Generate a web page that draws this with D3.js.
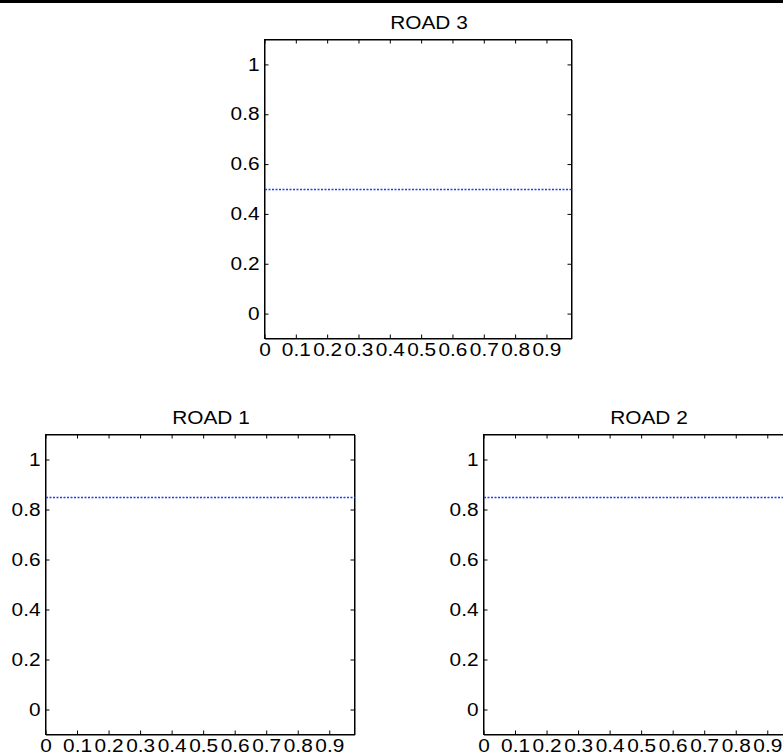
<!DOCTYPE html>
<html>
<head>
<meta charset="utf-8">
<script src="https://d3js.org/d3.v7.min.js"></script>
<style>
  body { margin: 0; background: #fff; }
  svg { display: block; overflow: hidden; }
  text { font-family: "Liberation Sans", Arial, Helvetica, sans-serif; fill: #000; }
</style>
</head>
<body>
<div id="chart"></div>
<script>
// chart values
const roadNames = ["ROAD 3", "ROAD 1", "ROAD 2"];
const roadValues = [0.5, 0.85, 0.85];
const lineX = [0, 0.98];
const xTicks = [0, 0.1, 0.2, 0.3, 0.4, 0.5, 0.6, 0.7, 0.8, 0.9];
const yTicks = [0, 0.2, 0.4, 0.6, 0.8, 1];
const xDomain = [0, 0.98];
const yDomain = [-0.1, 1.1];

const W = 783, H = 754;
const stretch = 1.19;   // text looks horizontally stretched in the original

// panel boxes (left, top, width, height)
const panels = [
    { left: 264.5, top: 39.5, width: 307, height: 299 },
    { left: 45.5, top: 434.5, width: 309, height: 300 },
    { left: 483.5, top: 434.5, width: 309, height: 300 }
];

const svg = d3.select("#chart")
    .append("svg")
    .attr("width", W)
    .attr("height", H);

// thin black strip along the top edge
svg.append("rect")
    .attr("x", 0).attr("y", 0)
    .attr("width", W).attr("height", 3)
    .attr("fill", "#000");

roadNames.forEach((name, i) => {
    const p = panels[i];
    const g = svg.append("g")
        .attr("transform", `translate(${p.left},${p.top})`);

    const x = d3.scaleLinear().domain(xDomain).range([0, p.width]);
    const y = d3.scaleLinear().domain(yDomain).range([p.height, 0]);

    // bottom axis with labels
    const xb = g.append("g")
        .attr("transform", `translate(0,${p.height})`)
        .call(d3.axisBottom(x)
            .tickValues(xTicks)
            .tickFormat(d3.format("~g"))
            .tickSizeInner(-4)
            .tickSizeOuter(0)
            .tickPadding(5));
    xb.selectAll("text")
        .style("font-size", "17.5px")
        .attr("transform", `scale(${stretch},1)`)
        .attr("x", 0);

    // left axis with labels
    const yl = g.append("g")
        .call(d3.axisLeft(y)
            .tickValues(yTicks)
            .tickFormat(d3.format("~g"))
            .tickSizeInner(-4)
            .tickSizeOuter(0)
            .tickPadding(5));
    yl.selectAll("text")
        .style("font-size", "17.5px")
        .attr("x", -5 / stretch)
        .attr("transform", `scale(${stretch},1)`);

    // top and right axes, ticks only
    g.append("g")
        .call(d3.axisTop(x)
            .tickValues(xTicks)
            .tickFormat("")
            .tickSizeInner(-4)
            .tickSizeOuter(0));
    g.append("g")
        .attr("transform", `translate(${p.width},0)`)
        .call(d3.axisRight(y)
            .tickValues(yTicks)
            .tickFormat("")
            .tickSizeInner(-4)
            .tickSizeOuter(0));

    g.selectAll(".domain").attr("stroke", "#000");
    g.selectAll(".tick line").attr("stroke", "#000");

    // frame
    g.append("rect")
        .attr("width", p.width)
        .attr("height", p.height)
        .attr("fill", "none")
        .attr("stroke", "#000")
        .attr("stroke-width", 1);

    // dotted series line
    const line = d3.line()
        .x(d => x(d))
        .y(() => Math.round(y(roadValues[i])));
    g.append("path")
        .datum(lineX)
        .attr("d", line)
        .attr("transform", "translate(0.5,0)")
        .attr("fill", "none")
        .style("stroke", "#1c3cf0")
        .style("stroke-width", "1.3px")
        .style("stroke-dasharray", "2,1.5");

    // title
    g.append("text")
        .attr("transform", `translate(${p.width / 2 + 11},${-11}) scale(${stretch},1)`)
        .attr("text-anchor", "middle")
        .style("font-size", "17.5px")
        .text(name);
});
</script>
</body>
</html>
